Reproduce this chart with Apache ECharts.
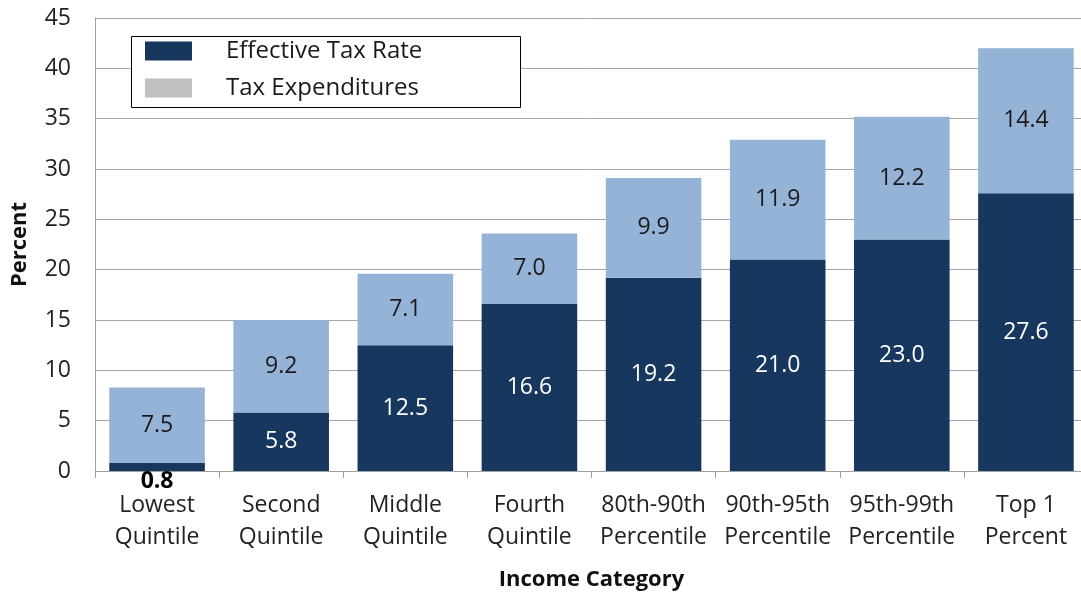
<!DOCTYPE html>
<html>
<head>
<meta charset="utf-8">
<script src="https://cdn.jsdelivr.net/npm/echarts@6/dist/echarts.min.js"></script>
<style>
  html, body { margin: 0; padding: 0; background: #fff; overflow: hidden; width: 100%; height: 100%; }
  #chart { width: 100vw; height: 100vh; }
</style>
</head>
<body>
<div id="chart"></div>
<script>
const categories = [
  'Lowest\nQuintile', 'Second\nQuintile', 'Middle\nQuintile', 'Fourth\nQuintile',
  '80th-90th\nPercentile', '90th-95th\nPercentile', '95th-99th\nPercentile', 'Top 1\nPercent'
]
const effectiveTaxRate = [0.8, 5.8, 12.5, 16.6, 19.2, 21.0, 23.0, 27.6]
const taxExpenditures = [7.5, 9.2, 7.1, 7.0, 9.9, 11.9, 12.2, 14.4]
const yTicks = { min: 0, max: 45, interval: 5 }

const FONT = '"Open Sans", "Liberation Sans", sans-serif'
const DARK = '#17375e'
const LIGHT = '#95b3d7'

const chart = echarts.init(document.getElementById('chart'))

// first bar is too thin for its label: put it under the bar, bold black
const effData = effectiveTaxRate.map((v, i) => i === 0
  ? { value: v, label: { position: 'bottom', distance: -1, color: '#000', fontWeight: 'bold' } }
  : v)

chart.setOption({
  animation: false,
  textStyle: { fontFamily: FONT },
  grid: { left: 95, right: -7, top: 18, bottom: 122, containLabel: false, outerBoundsMode: 'none' },
  graphic: [{
    type: 'rect',
    z: 10,
    shape: { x: 131.5, y: 36.5, width: 389, height: 71 },
    style: { fill: '#fff', stroke: '#000', lineWidth: 1 }
  }],
  legend: {
    z: 20,
    orient: 'vertical',
    left: 145,
    top: 39,
    padding: 0,
    itemWidth: 47,
    itemHeight: 19,
    itemGap: 13,
    icon: 'rect',
    textStyle: { fontFamily: FONT, fontSize: 24, color: '#1a1a1a', padding: [0, 0, 0, 29], lineHeight: 24 },
    data: [
      { name: 'Effective Tax Rate' },
      { name: 'Tax Expenditures', itemStyle: { color: '#c0c0c0' } }
    ]
  },
  xAxis: {
    type: 'category',
    data: categories,
    name: 'Income Category',
    nameLocation: 'middle',
    nameGap: 98,
    nameTextStyle: { fontFamily: FONT, fontSize: 22, fontWeight: 'bold', color: '#111' },
    axisLine: { lineStyle: { color: '#a0a0a0', width: 1 } },
    axisTick: { show: true, length: 7, lineStyle: { color: '#a0a0a0' } },
    axisLabel: { fontFamily: FONT, fontSize: 23, color: '#222', lineHeight: 32, margin: 18, interval: 0 }
  },
  yAxis: {
    type: 'value',
    min: yTicks.min,
    max: yTicks.max,
    interval: yTicks.interval,
    name: 'Percent',
    nameLocation: 'middle',
    nameGap: 64,
    nameTextStyle: { fontFamily: FONT, fontSize: 22, fontWeight: 'bold', color: '#111' },
    axisLine: { show: true, lineStyle: { color: '#a0a0a0', width: 1 } },
    axisTick: { show: false },
    axisLabel: { fontFamily: FONT, fontSize: 23, color: '#222', margin: 24 },
    splitLine: { show: true, lineStyle: { color: '#a6a6a6', width: 1 } }
  },
  series: [
    {
      name: 'Effective Tax Rate',
      type: 'bar',
      stack: 'total',
      barCategoryGap: '23%',
      data: effData,
      itemStyle: { color: DARK },
      label: {
        show: true,
        position: 'inside',
        fontFamily: FONT,
        fontSize: 23,
        color: '#fff',
        formatter: p => p.value.toFixed(1)
      }
    },
    {
      name: 'Tax Expenditures',
      type: 'bar',
      stack: 'total',
      barCategoryGap: '23%',
      data: taxExpenditures,
      itemStyle: { color: LIGHT },
      label: {
        show: true,
        position: 'inside',
        fontFamily: FONT,
        fontSize: 23,
        color: '#1a1a1a',
        formatter: p => p.value.toFixed(1)
      }
    }
  ]
})
</script>
</body>
</html>
